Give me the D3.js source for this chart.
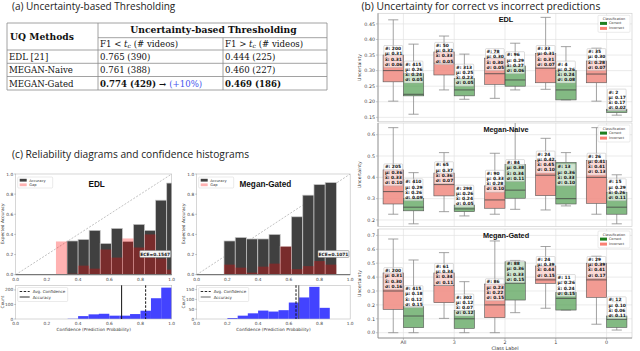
<!DOCTYPE html>
<html><head><meta charset="utf-8">
<script src="https://cdn.jsdelivr.net/npm/d3@7"></script>
<style>body{margin:0;background:#fff;} svg{display:block;}</style>
</head><body>
<svg id="c" width="640" height="351"></svg>
<script>
// ---------------- DATA ----------------
const tableMethods = ["EDL [21]", "MEGAN-Naive", "MEGAN-Gated"];
const tableLow = ["0.765 (390)", "0.761 (388)", "0.774 (429)"];
const tableHigh = ["0.444 (225)", "0.460 (227)", "0.469 (186)"];
const tableGain = "(+10%)";

// reliability diagrams (bin left edge, accuracy, gap)
const relEdgesEDL = [0.258,0.329,0.400,0.471,0.542,0.613,0.684,0.755,0.826,0.897,0.968];
const relAccEDL   = [0,0.335,0.35,0.44,0.31,0.46,0.33,0.50,0.44,0.74,0.91];
const relGapEDL   = [0.33,0.01,0.09,0.06,0.25,0.17,0.36,0.27,0.40,0.16,0.05];
const relEdgesMG  = [0.178,0.251,0.324,0.398,0.471,0.544,0.617,0.691,0.764,0.837];
const relAccMG    = [0.335,0.37,0.355,0.355,0.40,0.28,0.575,0.79,0.895,0.915];
const relGapMG    = [0.10,0.07,0.02,0.08,0.11,0.28,0.055,0.085,0.135,0.10];
const eceEDL = "ECE=0.1547", eceMG = "ECE=0.1071";

// confidence histograms
const histEdgesEDL  = [0.333,0.4,0.467,0.533,0.6,0.667,0.733,0.8,0.867,0.933];
const histCountsEDL = [2,20,32,36,23,23,34,57,143,216];
const histEdgesMG   = [0.2,0.267,0.333,0.4,0.467,0.533,0.6,0.667,0.733,0.8];
const histCountsMG  = [5,17,29,43,38,45,84,110,164,57];
const accEDL = 0.679, avgConfEDL = 0.833;
const accMG = 0.665, avgConfMG = 0.647;
const relTicks = [0,0.2,0.4,0.6,0.8,1.0];
const histTicksEDL = [0,100,200];
const histTicksMG = [0,50,100,150];

// boxplots: [whiskerLow, q1, median, q3, whiskerHigh, n, mean, median(label), std]
const classes = ["All","3","2","1","0"];
const edlIncorrect = [
  [0.202,0.264,0.300,0.350,0.463,200,0.31,0.31,0.06],
  [0.238,0.286,0.324,0.360,0.411,50,0.32,0.33,0.05],
  [0.211,0.256,0.290,0.340,0.355,78,0.30,0.30,0.05],
  [0.240,0.261,0.308,0.355,0.471,33,0.31,0.31,0.07],
  [0.202,0.261,0.289,0.331,0.372,35,0.30,0.28,0.07]];
const edlCorrect = [
  [0.160,0.219,0.224,0.290,0.385,415,0.26,0.24,0.05],
  [0.208,0.219,0.238,0.275,0.353,313,0.25,0.23,0.05],
  [0.238,0.250,0.270,0.315,0.388,96,0.29,0.27,0.06],
  [0.206,0.206,0.238,0.300,0.377,4,0.26,0.24,0.08],
  [0.157,0.165,0.172,0.176,0.178,2,0.17,0.17,0.02]];
const naiveIncorrect = [
  [0.227,0.275,0.333,0.435,0.633,205,0.36,0.33,0.10],
  [0.239,0.313,0.366,0.420,0.516,65,0.37,0.36,0.07],
  [0.227,0.255,0.294,0.360,0.513,90,0.33,0.28,0.10],
  [0.247,0.314,0.410,0.480,0.583,24,0.42,0.45,0.10],
  [0.227,0.278,0.400,0.480,0.633,26,0.41,0.41,0.13]];
const naiveCorrect = [
  [0.182,0.243,0.260,0.300,0.422,410,0.29,0.26,0.09],
  [0.219,0.239,0.252,0.270,0.320,298,0.26,0.24,0.05],
  [0.250,0.302,0.340,0.460,0.680,84,0.38,0.34,0.11],
  [0.266,0.275,0.300,0.470,0.516,13,0.36,0.33,0.10],
  [0.182,0.227,0.260,0.330,0.412,15,0.29,0.26,0.11]];
const gatedIncorrect = [
  [0.000,0.168,0.300,0.430,0.674,200,0.31,0.30,0.16],
  [0.103,0.216,0.340,0.430,0.576,61,0.34,0.34,0.11],
  [0.000,0.108,0.200,0.350,0.660,86,0.23,0.22,0.15],
  [0.176,0.355,0.380,0.480,0.620,24,0.39,0.44,0.15],
  [0.061,0.254,0.380,0.500,0.550,29,0.39,0.41,0.17]];
const gatedCorrect = [
  [0.000,0.036,0.120,0.187,0.523,415,0.18,0.12,0.15],
  [0.000,0.031,0.100,0.160,0.367,302,0.12,0.07,0.12],
  [0.144,0.235,0.356,0.510,0.520,88,0.36,0.33,0.15],
  [0.163,0.163,0.247,0.290,0.370,11,0.26,0.24,0.15],
  [0.019,0.038,0.096,0.120,0.223,12,0.10,0.06,0.11]];
const edlTicks = [0.15,0.20,0.25,0.30,0.35,0.40,0.45];
const naiveTicks = [0.2,0.3,0.4,0.5,0.6];
const gatedTicks = [0,0.1,0.2,0.3,0.4,0.5,0.6,0.7];

// ---------------- DRAW ----------------
const svg = d3.select("#c");
const SANS = "'Open Sans', sans-serif";
const MPL = "'DejaVu Sans', sans-serif";
const SERIF = "'DejaVu Serif', serif";
const defs = svg.append("defs");

// ===== (a) table =====
svg.append("text").attr("x",12).attr("y",10).attr("font-family",SANS).attr("font-size",10)
  .attr("fill","#222").text("(a) Uncertainty-based Thresholding");
const tb = svg.append("g").attr("font-family",SERIF).attr("fill","#111");
const colX = [7,98,223,327];
const rowY = [23,37.7,50,63.3,76.5,90];
const tl = (x1,y1,x2,y2)=>tb.append("line").attr("x1",x1).attr("y1",y1).attr("x2",x2).attr("y2",y2)
  .attr("stroke","#8a8a8a").attr("stroke-width",0.8);
tl(colX[0],rowY[0],colX[3],rowY[0]);
tl(colX[1],rowY[1],colX[3],rowY[1]);
[2,3,4,5].forEach(i=>tl(colX[0],rowY[i],colX[3],rowY[i]));
tl(colX[0],rowY[0],colX[0],rowY[5]);
tl(colX[1],rowY[0],colX[1],rowY[5]);
tl(colX[2],rowY[1],colX[2],rowY[5]);
tl(colX[3],rowY[0],colX[3],rowY[5]);
tb.append("text").attr("x",10).attr("y",39.5).attr("font-size",9.2).attr("font-weight","bold").text("UQ Methods");
tb.append("text").attr("x",(colX[1]+colX[3])/2+1).attr("y",33).attr("text-anchor","middle")
  .attr("font-size",9.2).attr("font-weight","bold").text("Uncertainty-based Thresholding");
function subHeader(x, op){
  const t = tb.append("text").attr("x",x).attr("y",46.5).attr("font-size",8.6);
  t.append("tspan").text("F1 "+op+" ");
  t.append("tspan").attr("font-style","italic").text("t");
  t.append("tspan").attr("font-size",6).attr("dy",1.5).attr("font-style","italic").text("c");
  t.append("tspan").attr("dy",-1.5).text(" (# videos)");
}
subHeader(colX[1]+2,"<");
subHeader(colX[2]+2,">");
tableMethods.forEach((m,i)=>{
  const y = rowY[i+2]+10;
  const bold = i===2;
  tb.append("text").attr("x",colX[0]+2).attr("y",y).attr("font-size",8.6).text(m);
  const t = tb.append("text").attr("x",colX[1]+2).attr("y",y).attr("font-size",8.6)
    .attr("font-weight",bold?"bold":"normal");
  t.append("tspan").text(tableLow[i]);
  if(bold){ t.append("tspan").text(" \u2192 "); t.append("tspan").attr("fill","#4455ee").attr("font-weight","normal").text(tableGain); }
  tb.append("text").attr("x",colX[2]+2).attr("y",y).attr("font-size",8.6)
    .attr("font-weight",bold?"bold":"normal").text(tableHigh[i]);
});

// ===== (c) reliability + histograms =====
svg.append("text").attr("x",12).attr("y",157.5).attr("font-family",SANS).attr("font-size",10.2)
  .attr("fill","#222").text("(c) Reliability diagrams and confidence histograms");

function relPanel(id, xl, xr, edges, acc, gap, title, ece, hEdges, hCounts, hMax, hTicks, accV, confV){
  const g = svg.append("g").attr("font-family",MPL);
  const x = d3.scaleLinear().domain([0,1]).range([xl,xr]);
  const y = d3.scaleLinear().domain([0,1]).range([274.7,174]);
  const w = edges[1]-edges[0];
  defs.append("clipPath").attr("id","cl"+id).append("rect")
    .attr("x",xl).attr("y",174).attr("width",xr-xl).attr("height",100.7);
  const pg = g.append("g").attr("clip-path",`url(#cl${id})`);
  pg.append("line").attr("x1",x(0)).attr("y1",y(0)).attr("x2",x(1)).attr("y2",y(1))
    .attr("stroke","#999").attr("stroke-width",0.6).attr("stroke-dasharray","2,1.5");
  pg.selectAll("rect.acc").data(edges).join("rect")
    .attr("x",d=>x(d)).attr("width",d=>x(d+w)-x(d))
    .attr("y",(d,i)=>y(acc[i])).attr("height",(d,i)=>y(0)-y(acc[i]))
    .attr("fill","#404040").attr("stroke","#c8c8c8").attr("stroke-width",0.7);
  pg.selectAll("rect.gap").data(edges).join("rect")
    .attr("x",d=>x(d)).attr("width",d=>x(d+w)-x(d))
    .attr("y",(d,i)=>y(gap[i])).attr("height",(d,i)=>y(0)-y(gap[i]))
    .attr("fill","red").attr("fill-opacity",0.3);
  g.append("rect").attr("x",xl).attr("y",174).attr("width",xr-xl).attr("height",100.7)
    .attr("fill","none").attr("stroke","#bbb").attr("stroke-width",0.6);
  g.append("line").attr("x1",xl).attr("x2",xr).attr("y1",274.7).attr("y2",274.7).attr("stroke","#777").attr("stroke-width",1.2);
  relTicks.forEach(t=>{
    g.append("text").attr("x",x(t)).attr("y",280.5).attr("text-anchor","middle").attr("font-size",4.3).attr("fill","#444").text(t.toFixed(1));
    g.append("text").attr("x",xl-2.5).attr("y",y(t)+1.5).attr("text-anchor","end").attr("font-size",4.3).attr("fill","#444").text(t.toFixed(1));
    g.append("line").attr("x1",xl-1.5).attr("x2",xl).attr("y1",y(t)).attr("y2",y(t)).attr("stroke","#666").attr("stroke-width",0.4);
  });
  g.append("text").attr("transform",`translate(${xl-12},224) rotate(-90)`).attr("text-anchor","middle")
    .attr("font-size",4.3).attr("fill","#333").text("Expected Accuracy");
  g.append("text").attr("x",(xl+xr)/2 + (id===0?3:-8)).attr("y",186.5).attr("text-anchor","middle")
    .attr("font-family","'Liberation Sans', Arial, sans-serif").attr("font-weight","bold").attr("font-size",8.2).attr("fill","#111").text(title);
  // legend
  const lg = g.append("g").attr("transform",`translate(${xl+2},177)`);
  lg.append("rect").attr("width",35).attr("height",11).attr("fill","#fff").attr("stroke","#ccc").attr("stroke-width",0.4).attr("rx",1);
  lg.append("rect").attr("x",2).attr("y",1.8).attr("width",7).attr("height",2.8).attr("fill","#404040");
  lg.append("rect").attr("x",2).attr("y",6.4).attr("width",7).attr("height",2.8).attr("fill","red").attr("fill-opacity",0.3);
  lg.append("text").attr("x",11.5).attr("y",4.6).attr("font-size",3.6).attr("fill","#333").text("Accuracy");
  lg.append("text").attr("x",11.5).attr("y",9.2).attr("font-size",3.6).attr("fill","#333").text("Gap");
  // ECE
  const ex = id===0 ? x(0.795) : x(0.79);
  const eg = g.append("g").attr("transform",`translate(${ex},250.5)`);
  eg.append("rect").attr("width",31).attr("height",7).attr("fill","#f4f4f4").attr("stroke","#777").attr("stroke-width",0.5).attr("rx",1);
  eg.append("text").attr("x",15.5).attr("y",5.2).attr("text-anchor","middle").attr("font-size",4.4).attr("font-weight","bold").attr("fill","#222").text(ece);

  // histogram
  const hy = d3.scaleLinear().domain([0,hMax]).range([319,285.3]);
  const hw = hEdges[1]-hEdges[0];
  g.selectAll("rect.h").data(hEdges).join("rect")
    .attr("x",d=>x(d)).attr("width",d=>x(d+hw)-x(d))
    .attr("y",(d,i)=>hy(hCounts[i])).attr("height",(d,i)=>hy(0)-hy(hCounts[i]))
    .attr("fill","#3333ff").attr("fill-opacity",0.92);
  g.append("rect").attr("x",xl).attr("y",285.3).attr("width",xr-xl).attr("height",33.7)
    .attr("fill","none").attr("stroke","#bbb").attr("stroke-width",0.6);
  g.append("line").attr("x1",x(confV)).attr("x2",x(confV)).attr("y1",285.3).attr("y2",319)
    .attr("stroke","#111").attr("stroke-width",1).attr("stroke-dasharray","2.5,1.5");
  g.append("line").attr("x1",x(accV)).attr("x2",x(accV)).attr("y1",285.3).attr("y2",319)
    .attr("stroke",id===0?"#111":"#555").attr("stroke-width",1);
  relTicks.forEach(t=>{
    g.append("text").attr("x",x(t)).attr("y",324.5).attr("text-anchor","middle").attr("font-size",4.3).attr("fill","#444").text(t.toFixed(1));
  });
  hTicks.forEach(t=>{
    g.append("text").attr("x",xl-2.5).attr("y",hy(t)+1.5).attr("text-anchor","end").attr("font-size",4.3).attr("fill","#444").text(t);
    g.append("line").attr("x1",xl-1.5).attr("x2",xl).attr("y1",hy(t)).attr("y2",hy(t)).attr("stroke","#666").attr("stroke-width",0.4);
  });
  g.append("text").attr("transform",`translate(${xl-12},302) rotate(-90)`).attr("text-anchor","middle")
    .attr("font-size",4.3).attr("fill","#333").text("Count");
  g.append("text").attr("x",(xl+xr)/2).attr("y",331).attr("text-anchor","middle")
    .attr("font-size",4.3).attr("fill","#333").text("Confidence (Prediction Probability)");
  const hl = g.append("g").attr("transform",`translate(${xl+2},287.5)`);
  hl.append("rect").attr("width",50).attr("height",14).attr("fill","#fff").attr("fill-opacity",0.85).attr("stroke","#ccc").attr("stroke-width",0.4).attr("rx",1);
  hl.append("line").attr("x1",2).attr("x2",12).attr("y1",4).attr("y2",4).attr("stroke","#111").attr("stroke-width",0.9).attr("stroke-dasharray","2.5,1.5");
  hl.append("line").attr("x1",2).attr("x2",12).attr("y1",9.5).attr("y2",9.5).attr("stroke",id===0?"#111":"#555").attr("stroke-width",0.9);
  hl.append("text").attr("x",15).attr("y",5.5).attr("font-size",4).attr("fill","#333").text("Avg. Confidence");
  hl.append("text").attr("x",15).attr("y",11).attr("font-size",4).attr("fill","#333").text("Accuracy");
}
relPanel(0, 15.7, 171.7, relEdgesEDL, relAccEDL, relGapEDL, "EDL", eceEDL,
  histEdgesEDL, histCountsEDL, 232, histTicksEDL, accEDL, avgConfEDL);
relPanel(1, 196.7, 350.2, relEdgesMG, relAccMG, relGapMG, "Megan-Gated", eceMG,
  histEdgesMG, histCountsMG, 172, histTicksMG, accMG, avgConfMG);

// ===== (b) boxplots =====
svg.append("text").attr("x",361.5).attr("y",10).attr("font-family",SANS).attr("font-size",10.3)
  .attr("fill","#222").text("(b) Uncertainty for correct vs incorrect predictions");

const bx = d3.scaleBand().domain(classes).range([378,632]).padding(0);
const step = bx.step();
const ctr = c => bx(c) + step/2;
const subplots = [
  {title:"EDL", top:13.3, bottom:121.7, dom:[0.136,0.484], ticks:edlTicks, fmt:".2f", inc:edlIncorrect, cor:edlCorrect},
  {title:"Megan-Naive", top:123, bottom:226.5, dom:[0.1694,0.6549], ticks:naiveTicks, fmt:".1f", inc:naiveIncorrect, cor:naiveCorrect},
  {title:"Megan-Gated", top:229, bottom:338, dom:[-0.0381,0.7460], ticks:gatedTicks, fmt:".1f", inc:gatedIncorrect, cor:gatedCorrect}
];
const INC = "#f08a80", COR = "#4f9d4f";
subplots.forEach((sp,k)=>{
  const g = svg.append("g").attr("font-family",MPL);
  const y = d3.scaleLinear().domain(sp.dom).range([sp.bottom, sp.top]);
  defs.append("clipPath").attr("id","bp"+k).append("rect").attr("x",378).attr("y",sp.top).attr("width",254).attr("height",sp.bottom-sp.top);
  g.append("rect").attr("x",378).attr("y",sp.top).attr("width",254).attr("height",sp.bottom-sp.top).attr("fill","#fff");
  // grid
  sp.ticks.forEach(t=>{
    g.append("line").attr("x1",378).attr("x2",632).attr("y1",y(t)).attr("y2",y(t)).attr("stroke","#e3e3e3").attr("stroke-width",0.7);
    g.append("text").attr("x",375).attr("y",y(t)+1.7).attr("text-anchor","end").attr("font-size",4.8).attr("fill","#444").text(d3.format(sp.fmt)(t));
    g.append("line").attr("x1",376).attr("x2",378).attr("y1",y(t)).attr("y2",y(t)).attr("stroke","#777").attr("stroke-width",0.4);
  });
  classes.forEach(c=>{
    g.append("line").attr("x1",ctr(c)).attr("x2",ctr(c)).attr("y1",sp.top).attr("y2",sp.bottom).attr("stroke","#e3e3e3").attr("stroke-width",0.7);
  });
  g.append("rect").attr("x",378).attr("y",sp.top).attr("width",254).attr("height",sp.bottom-sp.top)
    .attr("fill","none").attr("stroke","#d0d0d0").attr("stroke-width",0.7);
  g.append("line").attr("x1",378).attr("x2",378).attr("y1",sp.top).attr("y2",sp.bottom).attr("stroke","#888").attr("stroke-width",0.8);
  g.append("text").attr("transform",`translate(361,${(sp.top+sp.bottom)/2}) rotate(-90)`).attr("text-anchor","middle")
    .attr("font-size",4.6).attr("fill","#333").text("Uncertainty");
  const pg = g.append("g").attr("clip-path",`url(#bp${k})`);
  const bw = step*0.4;
  const groups = [{data:sp.inc, off:-bw, col:INC},{data:sp.cor, off:0, col:COR}];
  groups.forEach(gr=>{
    gr.data.forEach((d,i)=>{
      const x0 = ctr(classes[i]) + gr.off, xm = x0 + bw/2;
      const [wl,q1,md,q3,wh] = d;
      pg.append("line").attr("x1",xm).attr("x2",xm).attr("y1",y(wl)).attr("y2",y(q1)).attr("stroke","#8a8a8a").attr("stroke-width",0.8);
      pg.append("line").attr("x1",xm).attr("x2",xm).attr("y1",y(q3)).attr("y2",y(wh)).attr("stroke","#8a8a8a").attr("stroke-width",0.8);
      [wl,wh].forEach(v=>pg.append("line").attr("x1",xm-bw/4).attr("x2",xm+bw/4).attr("y1",y(v)).attr("y2",y(v)).attr("stroke","#8a8a8a").attr("stroke-width",0.8));
      pg.append("rect").attr("x",x0).attr("width",bw).attr("y",y(q3)).attr("height",Math.max(0.5,y(q1)-y(q3)))
        .attr("fill",gr.col).attr("fill-opacity",gr.col===INC?0.85:0.7).attr("stroke","#555").attr("stroke-width",0.6);
      pg.append("line").attr("x1",x0).attr("x2",x0+bw).attr("y1",y(md)).attr("y2",y(md)).attr("stroke","#444").attr("stroke-width",0.8);
    });
  });
  // annotations
  groups.forEach(gr=>{
    gr.data.forEach((d,i)=>{
      const x0 = ctr(classes[i]) + gr.off;
      const [,, , , , n, mu, mdl, sd] = d;
      const lines = ["#: "+n, "\u03bc: "+mu.toFixed(2), "x\u0303: "+mdl.toFixed(2), "\u03c3: "+sd.toFixed(2)];
      const lh = 5.2, hgt = lines.length*lh+1.2;
      const yb = y(mu);
      const ag = pg.append("g");
      ag.append("rect").attr("x",x0+0.8).attr("y",yb-hgt).attr("width",bw-1.6).attr("height",hgt)
        .attr("fill","#fff").attr("fill-opacity",0.62).attr("stroke","#aaa").attr("stroke-width",0.4).attr("rx",0.8);
      lines.forEach((l,j)=>{
        ag.append("text").attr("x",x0+1.8).attr("y",yb-hgt+lh*(j+1)-0.6).attr("font-size",4.4)
          .attr("font-weight","bold").attr("fill","#111").text(l);
      });
    });
  });
  g.append("text").attr("x",506).attr("y",sp.top+8.5).attr("text-anchor","middle")
    .attr("font-family","'Liberation Sans', Arial, sans-serif").attr("font-weight","bold").attr("font-size",7.3).attr("fill","#111").text(sp.title);
  // legend
  const lg = g.append("g").attr("transform",`translate(598,${sp.top+2})`);
  lg.append("rect").attr("width",32).attr("height",17).attr("fill","#fff").attr("fill-opacity",0.85).attr("stroke","#ccc").attr("stroke-width",0.4).attr("rx",1);
  lg.append("text").attr("x",16).attr("y",4.5).attr("text-anchor","middle").attr("font-size",3.4).attr("fill","#333").text("Classification");
  lg.append("rect").attr("x",2).attr("y",6.6).attr("width",7).attr("height",3).attr("fill","#1f7f1f");
  lg.append("rect").attr("x",2).attr("y",11.6).attr("width",7).attr("height",3).attr("fill","#fa8072");
  lg.append("text").attr("x",11).attr("y",9.2).attr("font-size",3.4).attr("fill","#333").text("Correct");
  lg.append("text").attr("x",11).attr("y",14.2).attr("font-size",3.4).attr("fill","#333").text("Incorrect");
});
// x-axis
const xa = svg.append("g").attr("font-family",MPL);
xa.append("line").attr("x1",378).attr("x2",632).attr("y1",338).attr("y2",338).attr("stroke","#888").attr("stroke-width",0.8);
classes.forEach(c=>{
  xa.append("line").attr("x1",ctr(c)).attr("x2",ctr(c)).attr("y1",338).attr("y2",340).attr("stroke","#777").attr("stroke-width",0.4);
  xa.append("text").attr("x",ctr(c)).attr("y",344).attr("text-anchor","middle").attr("font-size",4.8).attr("fill","#444").text(c);
});
xa.append("text").attr("x",505).attr("y",350).attr("text-anchor","middle").attr("font-size",4.8).attr("fill","#333").text("Class Label");
</script></body></html>
